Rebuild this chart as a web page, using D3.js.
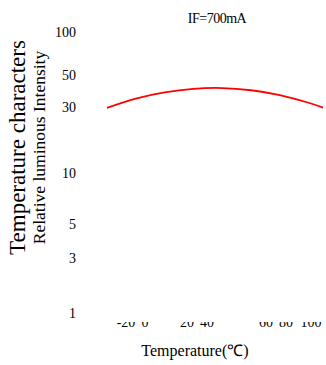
<!DOCTYPE html>
<html><head><meta charset="utf-8">
<script src="https://cdn.jsdelivr.net/npm/d3@7"></script>
<style>html,body{margin:0;padding:0;background:#fff;}svg{display:block;font-family:"Liberation Serif","Times New Roman",serif;}</style>
</head><body>
<script>
// Data
const temps = [-40, -20, 0, 20, 40, 60, 80, 100, 110];
const intensity = [29.6, 34.3, 37.9, 40.1, 40.6, 39.2, 36.3, 32.1, 29.7];
const yTickValues = [1, 3, 5, 10, 30, 50, 100];
const xTickValues = [-20, 0, 20, 40, 60, 80, 100];
const titleText = "IF=700mA";
const yTitleMain = "Temperature characters";
const yTitleSub = "Relative luminous Intensity";
const xTitle = "Temperature(℃)";

const W = 326, H = 365;
const svg = d3.select("body").append("svg").attr("width", W).attr("height", H);

// y scale: piecewise on log10 values (matches the uneven tick layout)
const y = d3.scaleLinear()
  .domain(yTickValues.map(v => Math.log10(v)))
  .range([313, 258, 224, 173, 107, 75, 32]);
const yv = v => y(Math.log10(v));

// x scale for curve
const x = d3.scaleLinear().domain([-40, 110]).range([107, 323]);
// x scale for tick labels (uneven layout in the reference)
const xLab = d3.scaleLinear().domain(xTickValues).range([126, 145, 187, 207, 266, 286, 311]);

// y tick labels
svg.append("g").selectAll("text").data(yTickValues).join("text")
  .attr("x", 76).attr("y", d => yv(d) + 5)
  .attr("text-anchor", "end").attr("font-size", 14).attr("fill", "#000")
  .text(d => d);

// x tick labels (top clipped as in reference)
svg.append("clipPath").attr("id", "xc").append("rect")
  .attr("x", 0).attr("y", 322).attr("width", W).attr("height", 20);
svg.append("g").attr("clip-path", "url(#xc)").selectAll("text").data(xTickValues).join("text")
  .attr("x", d => xLab(d)).attr("y", 327)
  .attr("text-anchor", "middle").attr("font-size", 14).attr("fill", "#000")
  .text(d => d);

// curve
const line = d3.line().x((d, i) => x(temps[i])).y(d => yv(d)).curve(d3.curveNatural);
svg.append("path").datum(intensity).attr("d", line)
  .attr("fill", "none").attr("stroke", "#ff0000").attr("stroke-width", 1.8);

// titles
svg.append("text").attr("x", 217).attr("y", 23).attr("text-anchor", "middle")
  .attr("font-size", 14).attr("letter-spacing", -0.5).text(titleText);
svg.append("text").attr("transform", "translate(25,147.5) rotate(-90)")
  .attr("text-anchor", "middle").attr("font-size", 23).text(yTitleMain);
svg.append("text").attr("transform", "translate(45,147.5) rotate(-90)")
  .attr("text-anchor", "middle").attr("font-size", 17.5).text(yTitleSub);
svg.append("text").attr("x", 195).attr("y", 356).attr("text-anchor", "middle")
  .attr("font-size", 16).text(xTitle);
</script>
</body></html>
